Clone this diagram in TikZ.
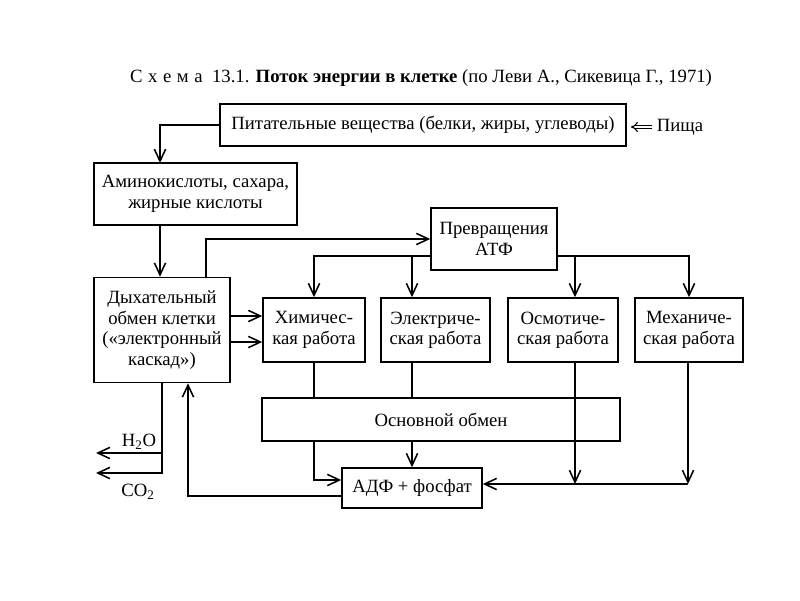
\documentclass[tikz,border=0pt]{standalone}
\usepackage{fontspec}
\setmainfont{Liberation Serif}
\usetikzlibrary{arrows.meta,calc}

\begin{document}
\begin{tikzpicture}[x=0.025cm,y=-0.025cm,
	txt/.style={font=\fontsize{13.3}{14.5}\selectfont},
	box/.style={txt, draw, line width=1.1pt, align=center, inner sep=2pt},
	arr/.style={line width=1.1pt, -{Straight Barb[length=3mm,width=2.8mm]}},
	ln/.style={line width=1.1pt}]

	\useasboundingbox (0,0) rectangle (800,600);

	% title
	\node[txt] (title) at (421,78) {С\hspace{0.3em}х\hspace{0.3em}е\hspace{0.3em}м\hspace{0.3em}а\ \ 13.1. \textbf{Поток энергии в клетке} (по Леви А., Сикевица Г., 1971)};

	% boxes
	\node[box, minimum width=10.15cm, minimum height=1.05cm] (nutr) at (423,125) {Питательные вещества (белки, жиры, углеводы)};
	\node[box, minimum width=5.075cm, minimum height=1.55cm] (amino) at (195.5,194) {Аминокислоты, сахара,\\жирные кислоты};
	\node[box, minimum width=3.4cm, minimum height=2.625cm] (resp) at (162,330) {Дыхательный\\обмен клетки\\(«электронный\\каскад»)};
	\node[box, minimum width=3.15cm, minimum height=1.55cm] (atp) at (494,239) {Превращения\\АТФ};
	\node[box, minimum width=2.55cm, minimum height=1.6cm] (chem) at (314,330) {Химичес-\\кая работа};
	\node[box, minimum width=2.725cm, minimum height=1.6cm] (elec) at (435.5,330) {Электриче-\\ская работа};
	\node[box, minimum width=2.75cm, minimum height=1.6cm] (osm) at (563,330) {Осмотиче-\\ская работа};
	\node[box, minimum width=2.7cm, minimum height=1.6cm] (mech) at (689,330) {Механиче-\\ская работа};
	\node[box, minimum width=8.95cm, minimum height=1.075cm] (basal) at (441,419.5) {Основной обмен};
	\node[box, minimum width=3.5cm, minimum height=1cm] (adp) at (412,488) {АДФ + фосфат};

	% labels
	\node[txt] (food) at (680,127) {Пища};
	\node[txt] (h2o) at (139,442) {H\textsubscript{2}O};
	\node[txt] (co2) at (138,492) {CO\textsubscript{2}};

	\coordinate (n1) at (160,163);
	\coordinate (r1) at (206,0);
	\coordinate (e1) at (412,256);
	\coordinate (o1) at (575,256);
	\coordinate (j) at (688,484);
	\coordinate (out1) at (96,453);
	\coordinate (out2) at (96,473);

	% connectors
	\draw[double, line width=0.8pt, double distance=1.6pt, -{Implies}, shorten >=3pt] (food.west) -- (food.west -| nutr.east);
	\draw[arr] (nutr.west) -| (n1);
	\draw[arr] (amino.south -| n1) -- (resp.north -| n1);
	\draw[arr] (resp.north -| r1) |- (atp.west);
	\draw[arr] ($(atp.west)+(0,17)$) -| (chem.north);
	\draw[arr] ($(atp.east)+(0,17)$) -| (mech.north);
	\draw[arr] (e1) -- (e1 |- elec.north);
	\draw[arr] (o1) -- (o1 |- osm.north);
	\draw[arr] ($(resp.east)+(0,-14)$) -- ($(chem.west)+(0,-14)$);
	\draw[arr] ($(resp.east)+(0,12)$) -- ($(chem.west)+(0,12)$);
	\draw[ln] (chem.south) -- (chem.south |- basal.north);
	\draw[ln] (e1 |- elec.south) -- (e1 |- basal.north);
	\draw[arr] (chem.south |- basal.south) |- ($(adp.west)+(0,-8)$);
	\draw[arr] (e1 |- basal.south) -- (e1 |- adp.north);
	\draw[arr] (o1 |- osm.south) -- (o1 |- j);
	\draw[arr] (j |- mech.south) -- (j);
	\draw[arr] (j) -- (adp.east |- j);
	\draw[arr] (resp.south) |- (out2);
	\draw[arr] (resp.south |- out1) -- (out1);
	\draw[arr] ($(adp.west)+(0,8)$) -| ($(resp.south)+(26,0)$);

\end{tikzpicture}
\end{document}
